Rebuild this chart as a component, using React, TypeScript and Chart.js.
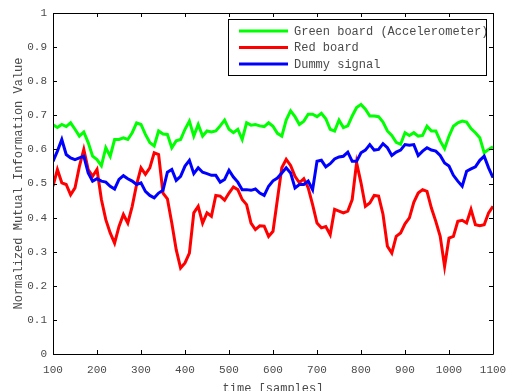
import React, { useEffect, useRef } from "react";
import { Chart, registerables } from "chart.js";

Chart.register(...registerables);

// Sample index (time axis)
const samples = [
  100, 110, 120, 130, 140, 150, 160, 170, 180, 190,
  200, 210, 220, 230, 240, 250, 260, 270, 280, 290,
  300, 310, 320, 330, 340, 350, 360, 370, 380, 390,
  400, 410, 420, 430, 440, 450, 460, 470, 480, 490,
  500, 510, 520, 530, 540, 550, 560, 570, 580, 590,
  600, 610, 620, 630, 640, 650, 660, 670, 680, 690,
  700, 710, 720, 730, 740, 750, 760, 770, 780, 790,
  800, 810, 820, 830, 840, 850, 860, 870, 880, 890,
  900, 910, 920, 930, 940, 950, 960, 970, 980, 990,
  1000, 1010, 1020, 1030, 1040, 1050, 1060, 1070, 1080, 1090,
  1100,
];

const greenBoard = [
  0.672, 0.664, 0.673, 0.667, 0.678, 0.659, 0.639, 0.651, 0.620, 0.580,
  0.570, 0.552, 0.605, 0.580, 0.629, 0.629, 0.634, 0.629, 0.649, 0.678,
  0.673, 0.644, 0.620, 0.610, 0.654, 0.645, 0.644, 0.605, 0.625, 0.629,
  0.659, 0.683, 0.639, 0.673, 0.639, 0.654, 0.651, 0.654, 0.669, 0.686,
  0.659, 0.649, 0.659, 0.629, 0.678, 0.671, 0.673, 0.669, 0.667, 0.678,
  0.668, 0.647, 0.639, 0.686, 0.713, 0.696, 0.673, 0.683, 0.703, 0.703,
  0.696, 0.706, 0.690, 0.659, 0.654, 0.686, 0.664, 0.669, 0.698, 0.723,
  0.732, 0.718, 0.698, 0.698, 0.696, 0.680, 0.654, 0.641, 0.621, 0.615,
  0.649, 0.641, 0.649, 0.639, 0.641, 0.668, 0.654, 0.654, 0.625, 0.602,
  0.639, 0.668, 0.678, 0.683, 0.680, 0.661, 0.649, 0.634, 0.590, 0.600,
  0.608,
];

const redBoard = [
  0.492, 0.541, 0.502, 0.497, 0.467, 0.487, 0.550, 0.600, 0.541, 0.521,
  0.541, 0.453, 0.394, 0.355, 0.325, 0.374, 0.409, 0.384, 0.433, 0.497,
  0.546, 0.527, 0.546, 0.590, 0.585, 0.472, 0.455, 0.384, 0.306, 0.252,
  0.267, 0.296, 0.414, 0.433, 0.384, 0.414, 0.404, 0.465, 0.463, 0.451,
  0.472, 0.490, 0.482, 0.453, 0.438, 0.384, 0.365, 0.376, 0.375, 0.345,
  0.360, 0.453, 0.546, 0.571, 0.553, 0.521, 0.502, 0.514, 0.487, 0.438,
  0.384, 0.370, 0.374, 0.350, 0.424, 0.419, 0.414, 0.419, 0.453, 0.561,
  0.502, 0.433, 0.443, 0.465, 0.463, 0.410, 0.316, 0.296, 0.345, 0.355,
  0.382, 0.399, 0.445, 0.472, 0.482, 0.477, 0.428, 0.389, 0.345, 0.257,
  0.340, 0.345, 0.389, 0.392, 0.384, 0.424, 0.379, 0.376, 0.379, 0.414,
  0.433,
];

const dummySignal = [
  0.565, 0.595, 0.629, 0.585, 0.575, 0.570, 0.575, 0.580, 0.531, 0.507,
  0.514, 0.507, 0.504, 0.492, 0.484, 0.512, 0.523, 0.514, 0.507, 0.497,
  0.502, 0.477, 0.465, 0.458, 0.472, 0.480, 0.533, 0.541, 0.509, 0.521,
  0.551, 0.568, 0.529, 0.546, 0.533, 0.529, 0.524, 0.524, 0.504, 0.512,
  0.539, 0.519, 0.504, 0.482, 0.482, 0.480, 0.484, 0.472, 0.465, 0.492,
  0.508, 0.516, 0.531, 0.546, 0.531, 0.487, 0.497, 0.497, 0.507, 0.482,
  0.565, 0.568, 0.549, 0.558, 0.572, 0.578, 0.580, 0.592, 0.565, 0.565,
  0.590, 0.598, 0.614, 0.598, 0.600, 0.617, 0.605, 0.582, 0.592, 0.598,
  0.614, 0.612, 0.614, 0.582, 0.595, 0.605, 0.598, 0.595, 0.582, 0.560,
  0.551, 0.524, 0.507, 0.492, 0.536, 0.543, 0.549, 0.568, 0.580, 0.546,
  0.517,
];

const xTicks = [100, 200, 300, 400, 500, 600, 700, 800, 900, 1000, 1100];
const yTicks = [0, 0.1, 0.2, 0.3, 0.4, 0.5, 0.6, 0.7, 0.8, 0.9, 1];

const seriesNames = ["Green board (Accelerometer)", "Red board", "Dummy signal"];
const seriesColors = ["#00ff00", "#ff0000", "#0000ff"];

const FONT = "'Liberation Mono', 'DejaVu Sans Mono', monospace";
const TEXT = "#4a4a4a";

const toPoints = (ys: number[]) => ys.map((y, i) => ({ x: samples[i], y }));

// Box around the axes with inward tick marks on all four sides, plus the legend box.
const boxPlugin = {
  id: "axesBox",
  afterDatasetsDraw(chart: any) {
    const { ctx, chartArea: a, scales } = chart;
    const tick = 4;
    ctx.save();
    ctx.strokeStyle = "#000";
    ctx.lineWidth = 1;
    ctx.beginPath();
    ctx.rect(Math.round(a.left) + 0.5, Math.round(a.top) + 0.5, Math.round(a.right - a.left), Math.round(a.bottom - a.top));
    ctx.stroke();
    ctx.beginPath();
    for (const v of xTicks) {
      const px = Math.round(scales.x.getPixelForValue(v)) + 0.5;
      ctx.moveTo(px, a.bottom);
      ctx.lineTo(px, a.bottom - tick);
      ctx.moveTo(px, a.top);
      ctx.lineTo(px, a.top + tick);
    }
    for (const v of yTicks) {
      const py = Math.round(scales.y.getPixelForValue(v)) + 0.5;
      ctx.moveTo(a.left, py);
      ctx.lineTo(a.left + tick, py);
      ctx.moveTo(a.right, py);
      ctx.lineTo(a.right - tick, py);
    }
    ctx.stroke();

    // legend
    const bw = 258;
    const bh = 56;
    const bx = Math.round(a.right) - 7 - bw;
    const by = Math.round(a.top) + 6;
    ctx.fillStyle = "#fff";
    ctx.fillRect(bx, by, bw, bh);
    ctx.save();
    ctx.beginPath();
    ctx.rect(bx, by, bw, bh);
    ctx.clip();
    ctx.font = `12px ${FONT}`;
    ctx.textBaseline = "middle";
    ctx.textAlign = "left";
    const rows = [12, 28.5, 45];
    seriesNames.forEach((name, i) => {
      const y = by + rows[i];
      ctx.strokeStyle = seriesColors[i];
      ctx.lineWidth = 3;
      ctx.beginPath();
      ctx.moveTo(bx + 11, y);
      ctx.lineTo(bx + 60, y);
      ctx.stroke();
      ctx.fillStyle = TEXT;
      ctx.fillText(name, bx + 66, y + 0.5);
    });
    ctx.restore();
    ctx.strokeStyle = "#000";
    ctx.lineWidth = 1;
    ctx.strokeRect(bx + 0.5, by + 0.5, bw, bh);
    ctx.restore();
  },
};

export default function App() {
  const canvasRef = useRef<HTMLCanvasElement | null>(null);

  useEffect(() => {
    const canvas = canvasRef.current;
    if (!canvas) return;
    const data = [greenBoard, redBoard, dummySignal];
    const chart = new Chart(canvas, {
      type: "line",
      data: {
        datasets: data.map((ys, i) => ({
          label: seriesNames[i],
          data: toPoints(ys),
          borderColor: seriesColors[i],
          backgroundColor: seriesColors[i],
          borderWidth: 3,
          pointRadius: 0,
          tension: 0,
          fill: false,
          order: 2 - i,
        })),
      },
      options: {
        responsive: false,
        animation: false,
        events: [],
        layout: { padding: { top: 13, right: 14, left: 0, bottom: 0 } },
        plugins: {
          legend: { display: false },
          tooltip: { enabled: false },
        },
        scales: {
          x: {
            type: "linear",
            min: 100,
            max: 1100,
            afterBuildTicks: (s: any) => {
              s.ticks = xTicks.map((value) => ({ value }));
            },
            afterFit: (s: any) => {
              s.height = 46;
              s.paddingLeft = 0;
              s.paddingRight = 0;
            },
            grid: { display: false, drawTicks: false },
            border: { display: false },
            ticks: {
              padding: 9,
              maxRotation: 0,
              autoSkip: false,
              color: TEXT,
              font: { family: FONT, size: 11 },
              callback: (v: any) => String(v),
            },
            title: {
              display: true,
              text: "time [samples]",
              color: TEXT,
              font: { family: FONT, size: 12 },
              padding: { top: 0, bottom: 4 },
            },
          },
          y: {
            type: "linear",
            min: 0,
            max: 1,
            afterBuildTicks: (s: any) => {
              s.ticks = yTicks.map((value) => ({ value }));
            },
            afterFit: (s: any) => {
              s.width = 53;
              s.paddingTop = 0;
              s.paddingBottom = 0;
            },
            grid: { display: false, drawTicks: false },
            border: { display: false },
            ticks: {
              padding: 6,
              autoSkip: false,
              color: TEXT,
              font: { family: FONT, size: 11 },
              callback: (v: any) => (v === 0 ? "0" : v === 1 ? "1" : Number(v).toFixed(1)),
            },
            title: {
              display: true,
              text: "Normalized Mutual Information Value",
              color: TEXT,
              font: { family: FONT, size: 12 },
              padding: { top: 12, bottom: 0 },
            },
          },
        },
      },
      plugins: [boxPlugin],
    });
    return () => chart.destroy();
  }, []);

  return (
    <div
      style={{
        position: "fixed",
        left: 0,
        top: 0,
        width: 507,
        height: 391,
        overflow: "hidden",
        background: "#fff",
      }}
    >
      <canvas ref={canvasRef} width={507} height={400} style={{ display: "block" }} />
    </div>
  );
}
